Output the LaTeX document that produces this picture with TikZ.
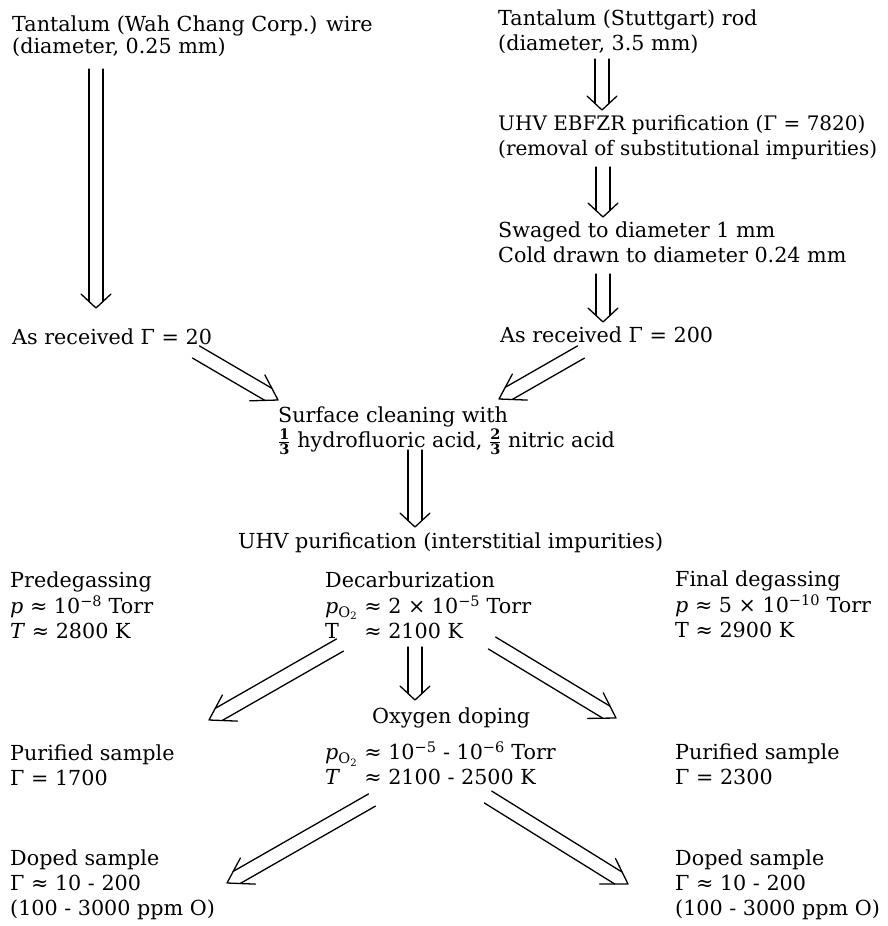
\documentclass[tikz,border=0pt]{standalone}
\usepackage{fontspec}
\setmainfont{DejaVu Serif}
\usetikzlibrary{calc}
\tikzset{
  txt/.style={anchor=north west, inner sep=0pt, align=left, yshift=17.5pt,
    font=\fontsize{20.7}{25}\selectfont},
  arrline/.style={line width=1.3pt, line cap=round, line join=round},
}
% #1 head length, #2 head half width, #3 half gap, #4 start, #5 tip
\newcommand\dblarr[5]{%
  \pgfmathsetmacro\dblD{#1*#3/#2}%
  \coordinate (dq) at ($(#5)!\dblD pt!(#4)$);
  \coordinate (dh) at ($(#5)!#1pt!(#4)$);
  \draw[arrline] ($(#4)!#3pt!90:(#5)$) -- ($(dq)!#3pt!90:(#5)$);
  \draw[arrline] ($(#4)!#3pt!-90:(#5)$) -- ($(dq)!#3pt!-90:(#5)$);
  \draw[arrline] ($(dh)!#2pt!90:(#5)$) -- (#5) -- ($(dh)!#2pt!-90:(#5)$);
}
\newcommand\varr[2]{\dblarr{14}{15}{7}{#1}{#2}}
\newcommand\darr[2]{\dblarr{24}{15}{7}{#1}{#2}}
\newcommand\pO{\textit{p}\textsubscript{O\textsubscript{2}}}
\newcommand\myexp[1]{\textsuperscript{#1}}
\begin{document}
\begin{tikzpicture}[x=1pt,y=-1pt]
\useasboundingbox (0,0) rectangle (888,926);
% text blocks
\node[txt] (wire) at (12,31) {\strut Tantalum (Wah Chang Corp.) wire\\[-3pt](diameter, 0.25 mm)};
\node[txt] (rod) at (498,25) {\strut Tantalum (Stuttgart) rod\\(diameter, 3.5 mm)};
\node[txt, font=\fontsize{20}{25}\selectfont] (ebfzr) at (498,130) {\strut UHV EBFZR purification (Γ = 7820)\\(removal of substitutional impurities)};
\node[txt] (swag) at (498,237) {\strut Swaged to diameter 1 mm\\Cold drawn to diameter 0.24 mm};
\node[txt] (rec20) at (12,344) {\strut As received Γ = 20};
\node[txt] (rec200) at (500,342) {\strut As received Γ = 200};
\node[txt] (clean) at (278,422) {\strut Surface cleaning with\\[-2pt]$\frac{\mathbf{1}}{\mathbf{3}}$ hydrofluoric acid, $\frac{\mathbf{2}}{\mathbf{3}}$ nitric acid};
\node[txt] (uhv) at (238,548) {\strut UHV purification (interstitial impurities)};
\node[txt] (pre) at (10,587) {\strut Predegassing\\\textit{p} ≈ 10\myexp{−8} Torr\\\textit{T} ≈ 2800 K};
\node[txt] (dec) at (325,587) {\strut Decarburization\\\pO\ ≈ 2 × 10\myexp{−5} Torr\\\rlap{T}\phantom{\pO}\ ≈ 2100 K};
\node[txt] (fin) at (675,586) {\strut Final degassing\\\textit{p} ≈ 5 × 10\myexp{−10} Torr\\T ≈ 2900 K};
\node[txt] (oxy) at (372,723) {\strut Oxygen doping};
\node[txt] (oxyc) at (325,759) {\strut \pO\ ≈ 10\myexp{−5} - 10\myexp{−6} Torr\\\rlap{\textit{T}}\phantom{\pO}\ ≈ 2100 - 2500 K};
\node[txt] (purL) at (10,760) {\strut Purified sample\\Γ = 1700};
\node[txt] (purR) at (675,759) {\strut Purified sample\\Γ = 2300};
\node[txt] (dopL) at (10,865) {\strut Doped sample\\Γ ≈ 10 - 200\\(100 - 3000 ppm O)};
\node[txt] (dopR) at (675,865) {\strut Doped sample\\Γ ≈ 10 - 200\\(100 - 3000 ppm O)};
% arrow end points
\coordinate (a1s) at (96,69);   \coordinate (a1t) at (96,308);
\coordinate (a2s) at (602,59);  \coordinate (a2t) at (602,110);
\coordinate (a3s) at (603,167); \coordinate (a3t) at (603,217);
\coordinate (a4s) at (603,274); \coordinate (a4t) at (603,322);
\coordinate (a5s) at (196,352); \coordinate (a5t) at (278,400);
\coordinate (a6s) at (581,352); \coordinate (a6t) at (499,399);
\coordinate (a7s) at (415,450); \coordinate (a7t) at (415,527);
\coordinate (a8s) at (340,645); \coordinate (a8t) at (209,720);
\coordinate (a9s) at (415,647); \coordinate (a9t) at (415,700);
\coordinate (a10s) at (492,643); \coordinate (a10t) at (616,718);
\coordinate (a11s) at (372,800); \coordinate (a11t) at (227,883);
\coordinate (a12s) at (488,797); \coordinate (a12t) at (628,884);
\varr{a1s}{a1t}
\varr{a2s}{a2t}
\varr{a3s}{a3t}
\varr{a4s}{a4t}
\darr{a5s}{a5t}
\darr{a6s}{a6t}
\varr{a7s}{a7t}
\darr{a8s}{a8t}
\varr{a9s}{a9t}
\darr{a10s}{a10t}
\darr{a11s}{a11t}
\darr{a12s}{a12t}
\end{tikzpicture}
\end{document}
